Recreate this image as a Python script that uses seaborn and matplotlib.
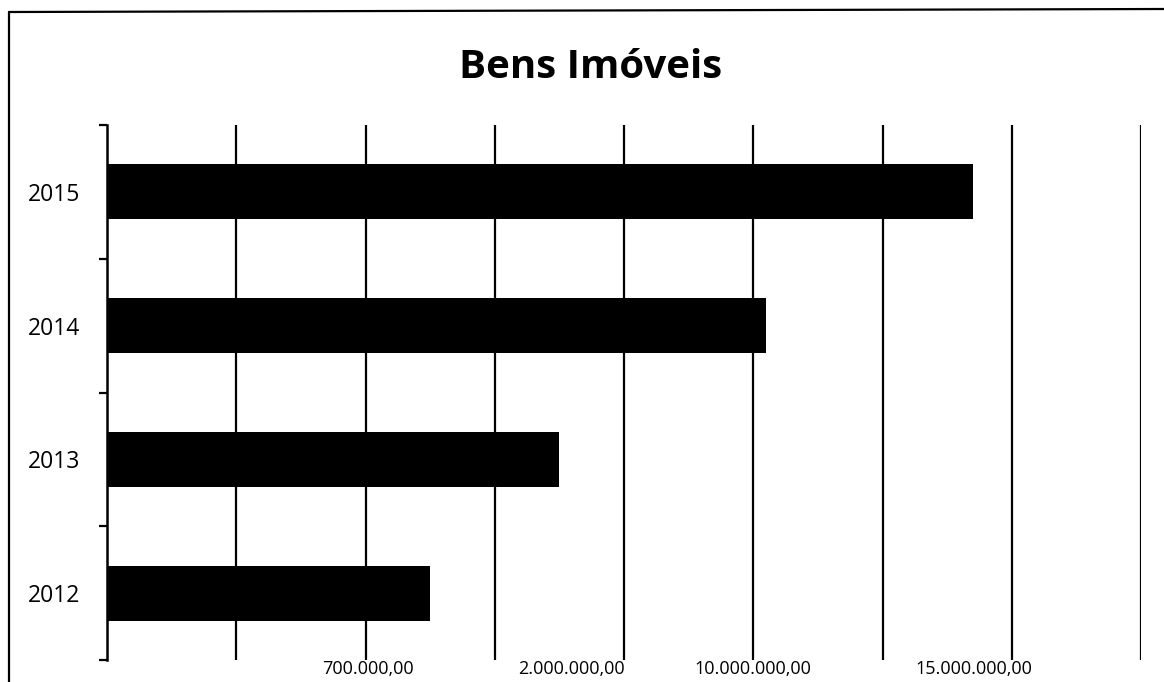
import matplotlib
matplotlib.use("Agg")
import matplotlib.pyplot as plt
import seaborn as sns
import pandas as pd

# Data: bar lengths on the chart's grid scale (0..8 divisions)
years = ["2015", "2014", "2013", "2012"]
bar_lengths = [6.70, 5.10, 3.50, 2.50]

# Value labels written along the bottom, with their positions on the grid scale
value_labels = ["700.000,00", "2.000.000,00", "10.000.000,00", "15.000.000,00"]
value_label_pos = [2.02, 3.59, 5.00, 6.71]

grid_positions = [1, 2, 3, 4, 5, 6, 7, 8]

df = pd.DataFrame({"ano": years, "valor": bar_lengths})

sns.set_theme(style="white")
plt.rcParams["font.family"] = ["Open Sans", "DejaVu Sans"]

W, H = 1164, 682
fig = plt.figure(figsize=(W / 100, H / 100), dpi=100)
ax = fig.add_axes([107 / W, 1 - 660 / H, (1141 - 107) / W, (660 - 125) / H])

sns.barplot(data=df, x="valor", y="ano", order=years, color="black",
            width=0.41, saturation=1, ax=ax, orient="h")
for p in ax.patches:
    p.set_edgecolor("black")
    p.set_linewidth(0)

ax.set_xlim(0, 8)
ax.set_ylim(3.5, -0.5)

# vertical grid lines
ax.xaxis.remove_overlapping_locs = False
ax.set_xticks(grid_positions, minor=True)
ax.grid(False)
ax.xaxis.grid(True, which="minor", color="black", linewidth=1.6)
ax.set_axisbelow(True)
ax.tick_params(axis="x", which="minor", length=0)

# value labels along the bottom
ax.set_xticks(value_label_pos)
ax.set_xticklabels(value_labels, fontsize=13, color="black")
ax.tick_params(axis="x", which="major", length=0, pad=0, labelcolor="black")

# category labels with tick marks on band boundaries
ax.set_yticks(range(len(years)))
ax.set_yticklabels(years, fontsize=16.5, color="black")
ax.tick_params(axis="y", which="major", length=0, pad=19, labelcolor="black")
ax.set_yticks([-0.5, 0.5, 1.5, 2.5, 3.5], minor=True)
ax.tick_params(axis="y", which="minor", left=True, length=6, width=1.6, color="black")

ax.set_xlabel("")
ax.set_ylabel("")
for side in ["top", "right", "bottom"]:
    ax.spines[side].set_visible(False)
ax.spines["left"].set_color("black")
ax.spines["left"].set_linewidth(1.8)

fig.text(591 / W, 1 - 68 / H, "Bens Imóveis", ha="center", va="center",
         fontsize=29, fontweight="bold", color="black")

# outer frame (left and top edges)
fig.add_artist(plt.Line2D([9 / W, 9 / W], [0, 1 - 12 / H], transform=fig.transFigure,
                          color="black", linewidth=1.6))
fig.add_artist(plt.Line2D([9 / W, 1], [1 - 12 / H, 1 - 9 / H], transform=fig.transFigure,
                          color="black", linewidth=1.6))

fig.savefig("out.png", dpi=100, facecolor="white")
